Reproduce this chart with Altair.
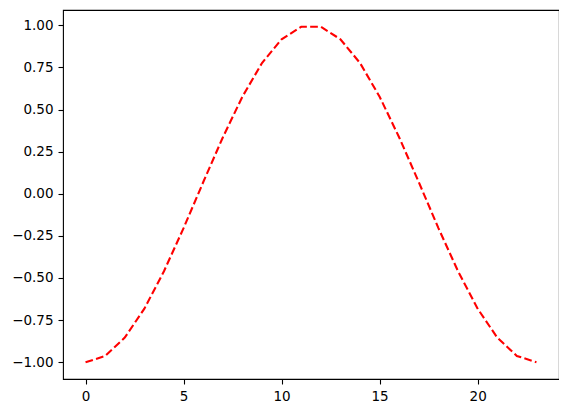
import altair as alt
import pandas as pd

xs = list(range(24))
ys = [-1.000, -0.963, -0.854, -0.682, -0.460, -0.204, 0.068, 0.334, 0.576, 0.776,
      0.917, 0.991, 0.991, 0.917, 0.776, 0.576, 0.334, 0.068, -0.204, -0.460,
      -0.682, -0.854, -0.963, -1.000]
x_ticks = [0, 5, 10, 15, 20]
y_ticks = [-1.0, -0.75, -0.5, -0.25, 0.0, 0.25, 0.5, 0.75, 1.0]

df = pd.DataFrame({"x": xs, "y": ys})

axis_common = dict(
    grid=False,
    domain=False,
    tickColor="black",
    tickWidth=1.1,
    tickSize=5,
    labelFont="DejaVu Sans",
    labelFontSize=13.5,
    labelColor="black",
    title=None,
)

chart = alt.Chart(df).mark_line(
    color="red", strokeWidth=2.1, strokeDash=[7.7, 3.3]
).encode(
    x=alt.X("x:Q", scale=alt.Scale(domain=[-1.15, 24.15], nice=False, zero=False),
            axis=alt.Axis(values=x_ticks, format="d", labelPadding=5, **axis_common)),
    y=alt.Y("y:Q", scale=alt.Scale(domain=[-1.0996, 1.0906], nice=False, zero=False),
            axis=alt.Axis(values=y_ticks, format=".2f", labelPadding=5, **axis_common)),
).properties(
    width=496,
    height=369,
    autosize=alt.AutoSizeParams(type="none"),
    padding={"left": 55, "top": 2, "right": 0, "bottom": 24},
).configure(
    background="white",
    view=alt.ViewConfig(stroke="black", strokeWidth=1.1),
)

chart.save("out.html", embed_options={"renderer": "svg", "actions": False})
